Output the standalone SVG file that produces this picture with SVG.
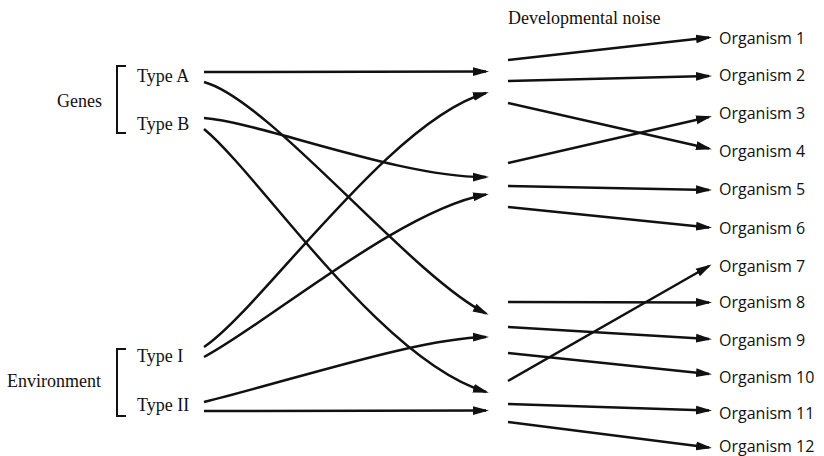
<svg xmlns="http://www.w3.org/2000/svg" width="824" height="456" viewBox="0 0 824 456">
<style>
.lbl{font-family:"Liberation Serif","Times New Roman",serif;font-size:18px;fill:#111}
.org{font-family:"Open Sans","Liberation Sans",sans-serif;font-size:16px;fill:#111}
.c{fill:none;stroke:#111;stroke-width:2.5}
.br{fill:none;stroke:#111;stroke-width:2}
</style>
<defs>
<marker id="ah" markerUnits="userSpaceOnUse" markerWidth="17" markerHeight="10" refX="13" refY="5" orient="auto">
<path d="M0,0.6 L16,5 L0,9.4 z" fill="#111"/>
</marker>
</defs>
<rect width="824" height="456" fill="#fff"/>
<g id="genes">
<text class="lbl" x="57" y="107">Genes</text>
<path class="br" d="M126,66 H117 V133 H126"/>
</g>
<g id="typeA"><text class="lbl" x="137" y="82">Type A</text></g>
<g id="typeB"><text class="lbl" x="137" y="130">Type B</text></g>
<g id="environment">
<text class="lbl" x="7" y="387">Environment</text>
<path class="br" d="M126,349 H117 V416 H126"/>
</g>
<g id="typeI"><text class="lbl" x="137" y="362">Type I</text></g>
<g id="typeII"><text class="lbl" x="137" y="411">Type II</text></g>
<g id="noise"><text class="lbl" x="508" y="24">Developmental noise</text></g>
<g id="org1"><text class="org" x="719" y="43.5">Organism 1</text></g>
<g id="org2"><text class="org" x="719" y="80.5">Organism 2</text></g>
<g id="org3"><text class="org" x="719" y="118.5">Organism 3</text></g>
<g id="org4"><text class="org" x="719" y="156.5">Organism 4</text></g>
<g id="org5"><text class="org" x="719" y="194.5">Organism 5</text></g>
<g id="org6"><text class="org" x="719" y="233.5">Organism 6</text></g>
<g id="org7"><text class="org" x="719" y="271.5">Organism 7</text></g>
<g id="org8"><text class="org" x="719" y="307.5">Organism 8</text></g>
<g id="org9"><text class="org" x="719" y="345.5">Organism 9</text></g>
<g id="org10"><text class="org" x="719" y="382.5">Organism 10</text></g>
<g id="org11"><text class="org" x="719" y="418.5">Organism 11</text></g>
<g id="org12"><text class="org" x="719" y="452">Organism 12</text></g>
<g id="connectors" marker-end="url(#ah)">
<path class="c" d="M204,72 L486,71.5"/>
<path class="c" d="M204,82 C270,100 410,275 486,313.5"/>
<path class="c" d="M204,118 C260,122 400,178 486,177"/>
<path class="c" d="M204,129 C260,175 380,360 486,392"/>
<path class="c" d="M204,347 C260,310 390,120 486,93"/>
<path class="c" d="M204,357 C265,325 400,210 486,194.5"/>
<path class="c" d="M204,402 C300,378 420,338 486,337"/>
<path class="c" d="M204,411 L486,410.5"/>
<path class="c" d="M508,60 L709,37.5"/>
<path class="c" d="M508,81 L709,76"/>
<path class="c" d="M508,103 L709,148.5"/>
<path class="c" d="M508,163 L709,117"/>
<path class="c" d="M508,186 L709,190"/>
<path class="c" d="M508,207 L709,227.5"/>
<path class="c" d="M508,302 L709,302.5"/>
<path class="c" d="M508,327 L709,339"/>
<path class="c" d="M508,353 L709,374"/>
<path class="c" d="M508,381 L709,266"/>
<path class="c" d="M508,404 L709,410.5"/>
<path class="c" d="M508,422 L709,447.5"/>
</g>
</svg>
